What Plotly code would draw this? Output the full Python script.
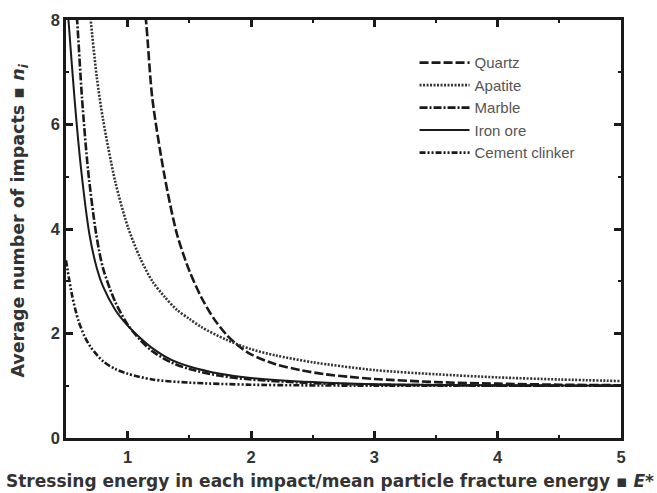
import plotly.graph_objects as go

# Data
quartz_x = [1.10, 1.15, 1.2, 1.3, 1.4, 1.5, 1.6, 1.7, 1.8, 1.9, 2.0, 2.2, 2.4, 2.6, 2.8, 3.0, 3.5, 4.0, 4.5, 5.0]
quartz_y = [9.0, 7.95, 6.5, 5.0, 3.9, 3.2, 2.68, 2.28, 1.98, 1.76, 1.6, 1.41, 1.30, 1.22, 1.17, 1.13, 1.07, 1.04, 1.02, 1.01]

apatite_x = [0.68, 0.70, 0.75, 0.8, 0.9, 1.0, 1.1, 1.2, 1.3, 1.4, 1.5, 1.6, 1.8, 2.0, 2.2, 2.5, 3.0, 3.5, 4.0, 4.5, 5.0]
apatite_y = [8.5, 8.0, 6.9, 6.1, 4.9, 4.05, 3.45, 3.0, 2.7, 2.45, 2.28, 2.12, 1.88, 1.7, 1.58, 1.45, 1.3, 1.22, 1.16, 1.12, 1.09]

marble_x = [0.57, 0.59, 0.63, 0.68, 0.745, 0.8, 0.9, 1.0, 1.1, 1.2, 1.35, 1.5, 1.75, 2.0, 2.5, 3.0, 3.5, 4.0, 5.0]
marble_y = [8.6, 8.0, 6.5, 5.1, 3.9, 3.25, 2.6, 2.17, 1.88, 1.66, 1.45, 1.32, 1.19, 1.12, 1.05, 1.02, 1.01, 1.0, 1.0]

iron_x = [0.5, 0.52, 0.57, 0.62, 0.69, 0.75, 0.8, 0.9, 1.0, 1.1, 1.2, 1.35, 1.5, 1.75, 2.0, 2.5, 3.0, 4.0, 5.0]
iron_y = [8.6, 8.0, 6.47, 5.2, 3.9, 3.25, 2.9, 2.45, 2.15, 1.92, 1.72, 1.5, 1.37, 1.23, 1.15, 1.07, 1.03, 1.01, 1.0]

cement_x = [0.5, 0.55, 0.6, 0.65, 0.7, 0.8, 0.9, 1.0, 1.2, 1.5, 2.0, 3.0, 4.0, 5.0]
cement_y = [3.4, 2.72, 2.25, 1.95, 1.74, 1.47, 1.32, 1.23, 1.12, 1.06, 1.02, 1.0, 1.0, 1.0]

x_ticks = [1, 2, 3, 4, 5]
y_ticks = [0, 2, 4, 6, 8]

series = [
    ("Quartz", quartz_x, quartz_y, dict(color="#1a1a1a", width=2.6, dash="9px,3px")),
    ("Apatite", apatite_x, apatite_y, dict(color="#333333", width=2.6, dash="2px,1.5px")),
    ("Marble", marble_x, marble_y, dict(color="#1a1a1a", width=2.6, dash="8px,2px,2px,2px")),
    ("Iron ore", iron_x, iron_y, dict(color="#1a1a1a", width=2.0, dash="solid")),
    ("Cement clinker", cement_x, cement_y, dict(color="#1a1a1a", width=2.6, dash="6px,2px,2px,2px,2px,2px")),
]

fig = go.Figure()
for name, xs, ys, ln in series:
    fig.add_trace(go.Scatter(x=xs, y=ys, mode="lines", name=name,
                             line=dict(shape="spline", smoothing=0.8, **ln)))

font_family = "Liberation Sans, Arial, sans-serif"
title_family = "DejaVu Sans, sans-serif"
axis_common = dict(
    showline=True, linecolor="#1a1a1a", linewidth=2.5, mirror="ticks",
    ticks="inside", ticklen=7, tickwidth=2.5, tickcolor="#1a1a1a",
    showgrid=False, zeroline=False,
    tickfont=dict(family=font_family, size=16.5, color="#333333", weight="bold"),
)

fig.update_layout(
    width=657, height=493,
    margin=dict(l=66, r=36, t=20, b=55),
    paper_bgcolor="white", plot_bgcolor="white",
    font=dict(family=font_family, color="#333333"),
    showlegend=True,
    legend=dict(x=0.628, y=0.937, xanchor="left", yanchor="top",
                bgcolor="rgba(0,0,0,0)", borderwidth=0,
                font=dict(family=font_family, size=15, color="#555555"),
                tracegroupgap=0, itemwidth=50),
    xaxis=dict(range=[0.5, 5], tickvals=x_ticks, ticklabelstandoff=2,
               minor=dict(dtick=0.5, ticks="inside", ticklen=3, tickwidth=2, tickcolor="#1a1a1a"),
               **axis_common),
    yaxis=dict(range=[0, 8], tickvals=y_ticks,
               minor=dict(dtick=1, ticks="inside", ticklen=3, tickwidth=2, tickcolor="#1a1a1a"),
               **axis_common),
    annotations=[
        dict(text="<b>Stressing energy in each impact/mean particle fracture energy ▪ <i>E</i>*</b>",
             xref="paper", yref="paper", x=0.476, y=-0.103, xanchor="center", yanchor="middle",
             showarrow=False, font=dict(family=title_family, size=17, color="#333333")),
        dict(text="<b>Average number of impacts ▪ <i>n</i><sub><i>i</i></sub></b>",
             xref="paper", yref="paper", x=-0.083, y=0.52, xanchor="center", yanchor="middle",
             textangle=-90, showarrow=False,
             font=dict(family=title_family, size=17.5, color="#333333")),
    ],
)

fig.write_html("out.html")
